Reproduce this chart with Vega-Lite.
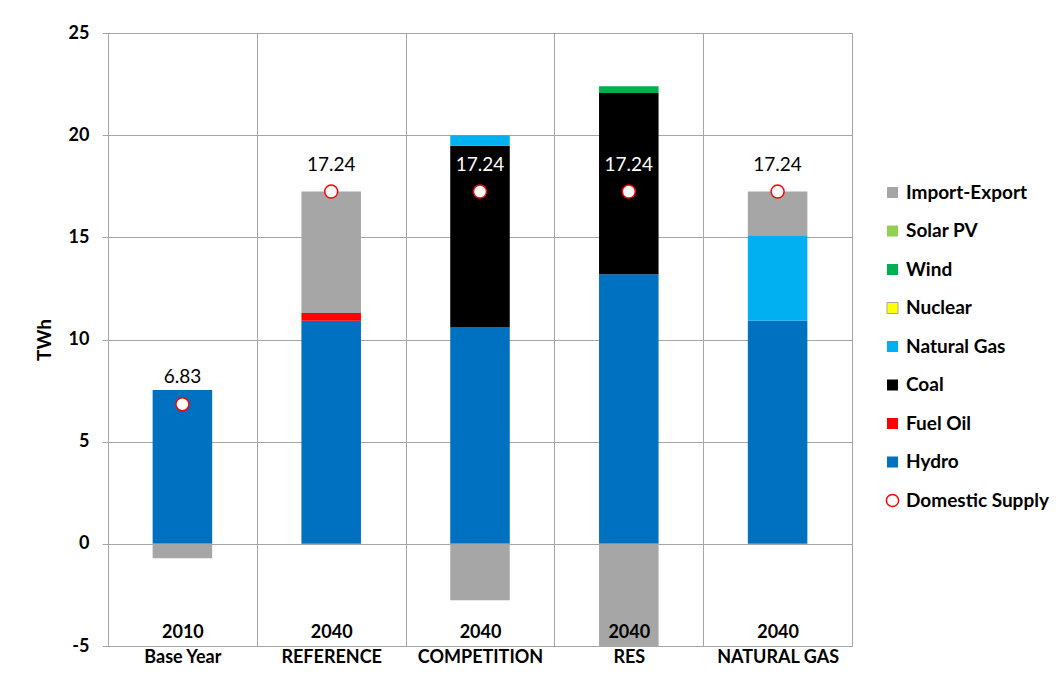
{
  "$schema": "https://vega.github.io/schema/vega-lite/v6.json",
  "autosize": {"type": "none"},
  "padding": {"left": 108, "top": 33, "right": 211, "bottom": 29},
  "width": 744,
  "height": 613,
  "background": "white",
  "config": {
    "font": "Lato",
    "view": {"stroke": "#a6a6a6", "strokeWidth": 1},
    "axis": {"gridColor": "#a6a6a6", "gridOpacity": 1, "domainColor": "#a6a6a6", "tickColor": "#a6a6a6"}
  },
  "datasets": {
    "mix": [
      {"scenario": "Base Year", "source": "Hydro", "twh": 7.53},
      {"scenario": "Base Year", "source": "Import-Export", "twh": -0.70},
      {"scenario": "REFERENCE", "source": "Hydro", "twh": 10.92},
      {"scenario": "REFERENCE", "source": "Fuel Oil", "twh": 0.38},
      {"scenario": "REFERENCE", "source": "Import-Export", "twh": 5.94},
      {"scenario": "COMPETITION", "source": "Hydro", "twh": 10.61},
      {"scenario": "COMPETITION", "source": "Coal", "twh": 8.87},
      {"scenario": "COMPETITION", "source": "Natural Gas", "twh": 0.52},
      {"scenario": "COMPETITION", "source": "Import-Export", "twh": -2.76},
      {"scenario": "RES", "source": "Hydro", "twh": 13.19},
      {"scenario": "RES", "source": "Coal", "twh": 8.87},
      {"scenario": "RES", "source": "Wind", "twh": 0.34},
      {"scenario": "RES", "source": "Import-Export", "twh": -5.16},
      {"scenario": "NATURAL GAS", "source": "Hydro", "twh": 10.92},
      {"scenario": "NATURAL GAS", "source": "Natural Gas", "twh": 4.18},
      {"scenario": "NATURAL GAS", "source": "Import-Export", "twh": 2.14}
    ],
    "supply": [
      {"scenario": "Base Year", "domestic": 6.83},
      {"scenario": "REFERENCE", "domestic": 17.24},
      {"scenario": "COMPETITION", "domestic": 17.24},
      {"scenario": "RES", "domestic": 17.24},
      {"scenario": "NATURAL GAS", "domestic": 17.24}
    ]
  },
  "encoding": {
    "x": {
      "field": "scenario",
      "type": "nominal",
      "sort": ["Base Year", "REFERENCE", "COMPETITION", "RES", "NATURAL GAS"],
      "scale": {"paddingInner": 0, "paddingOuter": 0},
      "axis": {
        "title": null,
        "labelAngle": 0,
        "tickBand": "extent",
        "ticks": false,
        "grid": true,
        "zindex": 1,
        "labelExpr": "indexof(['Base Year','REFERENCE','COMPETITION','RES','NATURAL GAS'], datum.value) < 0 ? '' : [datum.value === 'Base Year' ? '2010' : '2040', datum.value]",
        "labelFont": "Lato",
        "labelFontWeight": "bold",
        "labelFontSize": 18,
        "labelColor": "black",
        "labelBaseline": "top",
        "labelLineHeight": 25,
        "labelPadding": -23
      }
    }
  },
  "layer": [
    {
      "data": {"name": "mix"},
      "transform": [
        {"calculate": "indexof(['Hydro','Fuel Oil','Coal','Natural Gas','Nuclear','Wind','Solar PV','Import-Export'], datum.source)", "as": "stackRank"}
      ],
      "mark": {"type": "bar", "width": {"band": 0.4}, "clip": true},
      "encoding": {
        "y": {
          "field": "twh",
          "type": "quantitative",
          "stack": "zero",
          "scale": {"domain": [-5, 25], "nice": false},
          "axis": {
            "title": "TWh",
            "titleFont": "Lato",
            "titleFontSize": 19,
            "titleFontWeight": "bold",
            "titleColor": "black",
            "titlePadding": 14,
            "values": [-5, 0, 5, 10, 15, 20, 25],
            "labelExpr": "'' + datum.value",
            "tickSize": 6,
            "labelPadding": 13,
            "labelFontSize": 18,
            "labelFontWeight": "bold",
            "labelColor": "black",
            "grid": true,
            "zindex": 0
          }
        },
        "order": {"field": "stackRank", "type": "quantitative"},
        "color": {
          "field": "source",
          "type": "nominal",
          "scale": {
            "domain": ["Import-Export", "Solar PV", "Wind", "Nuclear", "Natural Gas", "Coal", "Fuel Oil", "Hydro", "Domestic Supply"],
            "range": ["#a6a6a6", "#92d050", "#00b050", "#ffff00", "#00b0f0", "#000000", "#ff0000", "#0070c0", "#ff0000"]
          },
          "legend": {
            "title": null,
            "orient": "none",
            "legendX": 775,
            "legendY": 150,
            "padding": 0,
            "rowPadding": 18.5,
            "symbolType": "square",
            "symbolSize": 121,
            "symbolOpacity": 1,
            "labelFont": "Lato",
            "labelFontSize": 19,
            "labelFontWeight": "bold",
            "labelColor": "black",
            "labelOffset": 4,
            "labelLimit": 300,
            "encode": {
              "symbols": {
                "update": {
                  "shape": {"signal": "datum.value === 'Domestic Supply' ? 'circle' : 'square'"},
                  "size": {"signal": "datum.value === 'Domestic Supply' ? 150 : 121"},
                  "fillOpacity": {"signal": "datum.value === 'Domestic Supply' ? 0 : 1"},
                  "stroke": {"signal": "datum.value === 'Domestic Supply' ? '#ff0000' : (datum.value === 'Nuclear' ? '#a6a6a6' : null)"},
                  "strokeWidth": {"signal": "datum.value === 'Domestic Supply' ? 1.5 : 1"}
                }
              }
            }
          }
        }
      }
    },
    {
      "data": {"name": "supply"},
      "mark": {"type": "point", "shape": "circle", "filled": true, "fill": "#ffffff", "stroke": "#ff0000", "strokeWidth": 1.5, "size": 169, "opacity": 1},
      "encoding": {
        "y": {"field": "domestic", "type": "quantitative"}
      }
    },
    {
      "data": {"name": "supply"},
      "mark": {"type": "text", "dy": -27, "fontSize": 19, "font": "Lato", "baseline": "middle", "align": "center"},
      "encoding": {
        "y": {"field": "domestic", "type": "quantitative"},
        "text": {"field": "domestic", "type": "quantitative", "format": ".2f"},
        "color": {
          "condition": {"test": "datum.scenario === 'COMPETITION' || datum.scenario === 'RES'", "value": "#ffffff"},
          "value": "#000000"
        }
      }
    }
  ]
}
